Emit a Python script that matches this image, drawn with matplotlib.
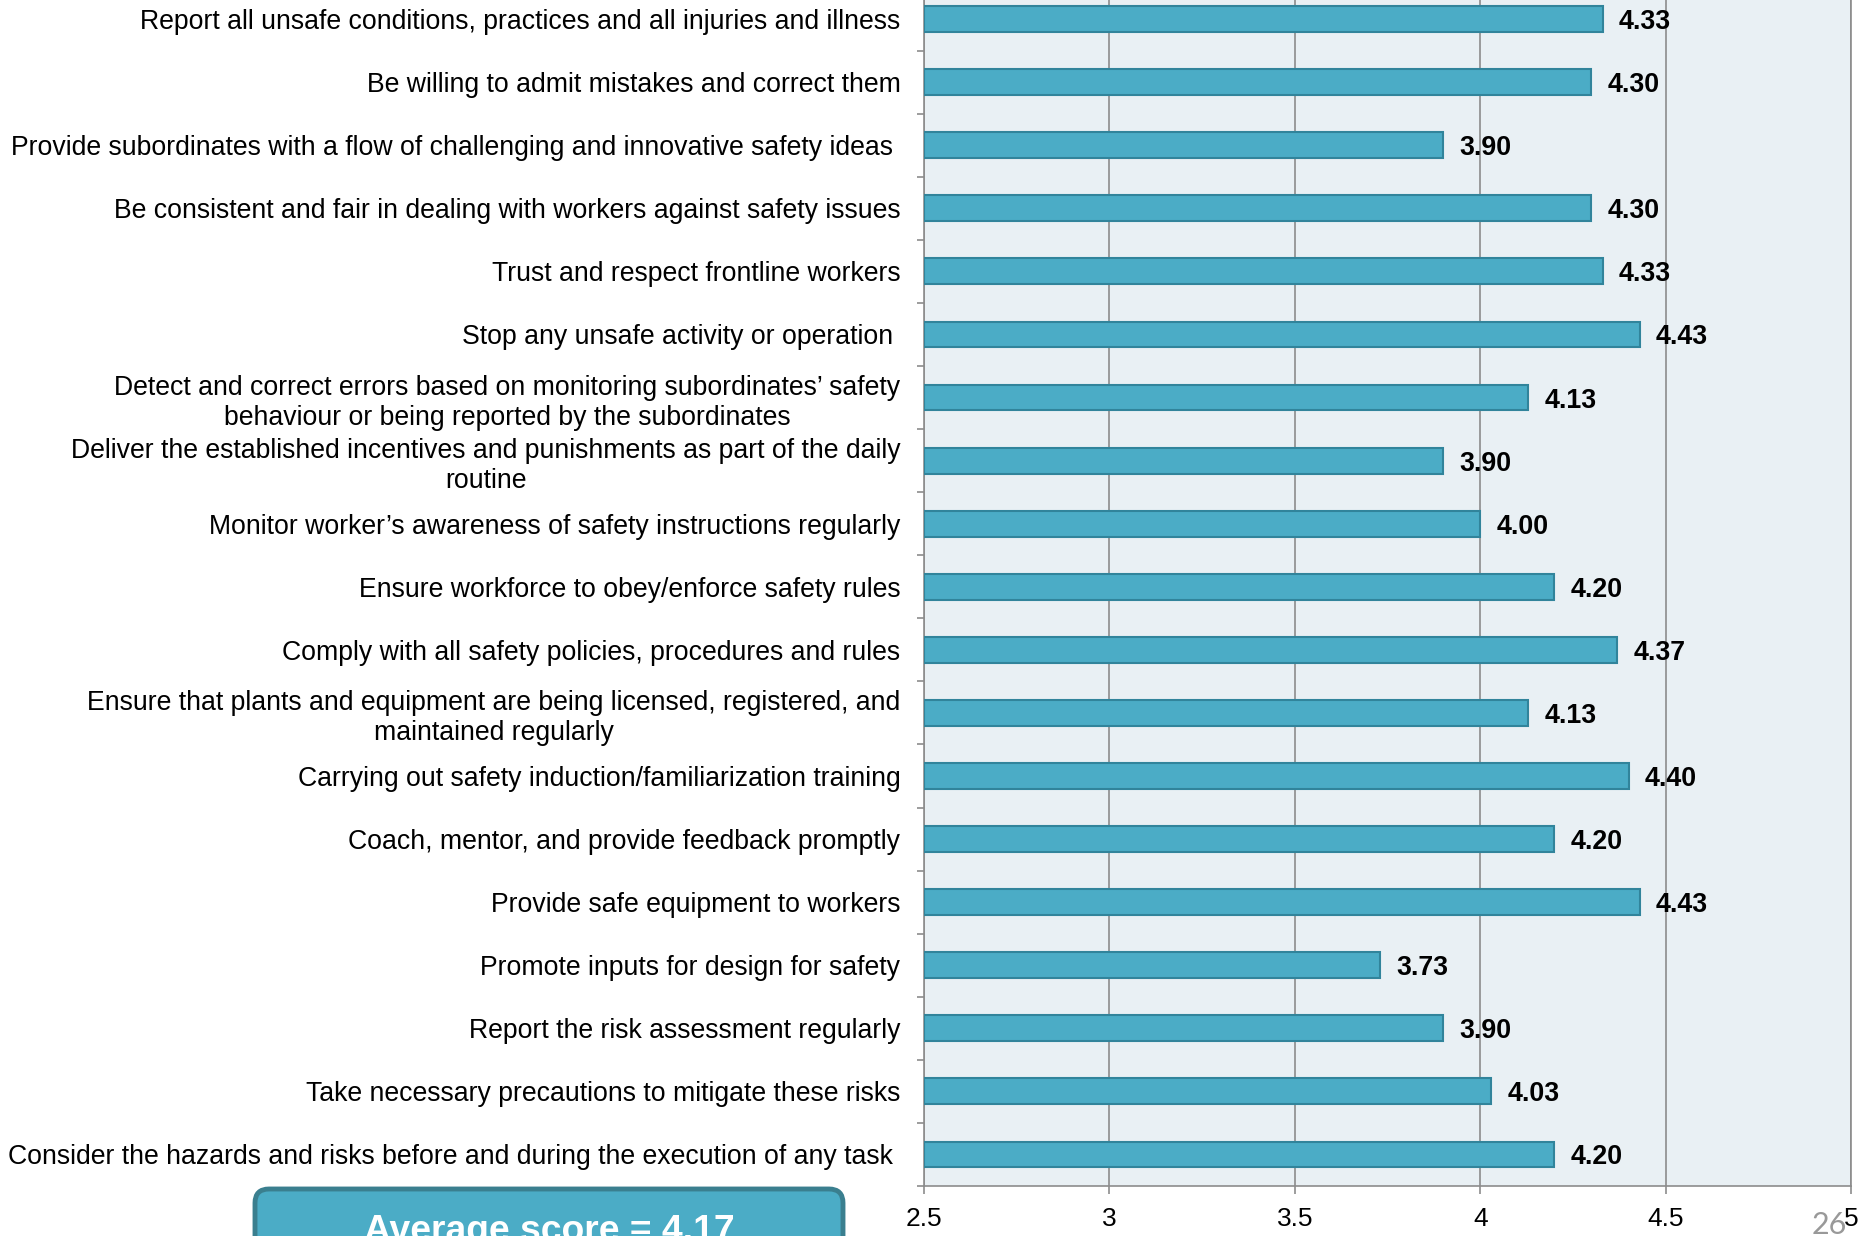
import matplotlib
matplotlib.use("Agg")
import matplotlib.pyplot as plt
from matplotlib.patches import FancyBboxPatch
import numpy as np

plt.rcParams['font.family'] = ['Liberation Sans', 'DejaVu Sans']

# items from top to bottom
items = [
    "Report all unsafe conditions, practices and all injuries and illness",
    "Be willing to admit mistakes and correct them",
    "Provide subordinates with a flow of challenging and innovative safety ideas ",
    "Be consistent and fair in dealing with workers against safety issues",
    "Trust and respect frontline workers",
    "Stop any unsafe activity or operation ",
    "Detect and correct errors based on monitoring subordinates\u2019 safety\nbehaviour or being reported by the subordinates",
    "Deliver the established incentives and punishments as part of the daily\nroutine",
    "Monitor worker\u2019s awareness of safety instructions regularly",
    "Ensure workforce to obey/enforce safety rules",
    "Comply with all safety policies, procedures and rules",
    "Ensure that plants and equipment are being licensed, registered, and\nmaintained regularly",
    "Carrying out safety induction/familiarization training",
    "Coach, mentor, and provide feedback promptly",
    "Provide safe equipment to workers",
    "Promote inputs for design for safety",
    "Report the risk assessment regularly",
    "Take necessary precautions to mitigate these risks",
    "Consider the hazards and risks before and during the execution of any task ",
]
scores = [4.33, 4.30, 3.90, 4.30, 4.33, 4.43, 4.13, 3.90, 4.00, 4.20,
          4.37, 4.13, 4.40, 4.20, 4.43, 3.73, 3.90, 4.03, 4.20]
x_ticks = [2.5, 3, 3.5, 4, 4.5, 5]
x_tick_labels = ["2.5", "3", "3.5", "4", "4.5", "5"]
average_text = "Average score = 4.17"
page_no = "26"

bar_color = "#4BACC6"
bar_edge = "#31849B"
grid_color = "#8C8C8C"

W, H = 1869, 1236
fig = plt.figure(figsize=(W / 100, H / 100), dpi=100)

# pixel layer for the box and the page number
bg = fig.add_axes([0, 0, 1, 1])
bg.set_xlim(0, W)
bg.set_ylim(H, 0)
bg.axis("off")

ax = fig.add_axes([924 / W, 1 - 1186 / H, (1851 - 924) / W, (1186 + 12.5) / H])
ax.set_facecolor("#E9F0F4")

n = len(items)
y = np.arange(n)
ax.barh(y, [s - 2.5 for s in scores], left=2.5, height=0.41,
        color=bar_color, edgecolor=bar_edge, linewidth=1.5, zorder=3)
for yi, s in zip(y, scores):
    ax.annotate(f"{s:.2f}", (s, yi), xytext=(11.5, 0), textcoords="offset points",
                ha="left", va="center_baseline", fontsize=19.3, fontweight="bold",
                zorder=4)

ax.set_ylim(n - 0.5, -0.5)
ax.set_xlim(2.5, 5)
ax.set_xticks(x_ticks)
ax.set_xticklabels(x_tick_labels, fontsize=19)
ax.set_yticks(y)
ax.set_yticklabels(items, fontsize=19.2)
for t in ax.get_yticklabels():
    t.set_multialignment("center")
ax.set_yticks(np.arange(n + 1) - 0.5, minor=True)
ax.tick_params(axis="y", which="major", length=0, pad=17)
ax.tick_params(axis="y", which="minor", length=5, color=grid_color, width=1.2)
ax.tick_params(axis="x", length=6, color=grid_color, width=1.2, pad=9)

ax.grid(axis="x", color=grid_color, linewidth=1.2, zorder=0)
ax.set_axisbelow(True)
ax.spines["top"].set_visible(False)
for side in ["left", "bottom", "right"]:
    ax.spines[side].set_color(grid_color)
    ax.spines[side].set_linewidth(1.2)

box = FancyBboxPatch((255, 1189), 588, 120,
                     boxstyle="round,pad=0,rounding_size=14",
                     facecolor=bar_color, edgecolor="#3A7F8F", linewidth=3.5)
bg.add_patch(box)
bg.text(549, 1241, average_text, ha="center", va="baseline",
        fontsize=26.8, fontweight="bold", color="white")
bg.text(1829, 1234, page_no, ha="center", va="baseline",
        fontsize=22, color="#999999", family=["Lato", "DejaVu Sans"])

fig.savefig("out.png", dpi=100)
